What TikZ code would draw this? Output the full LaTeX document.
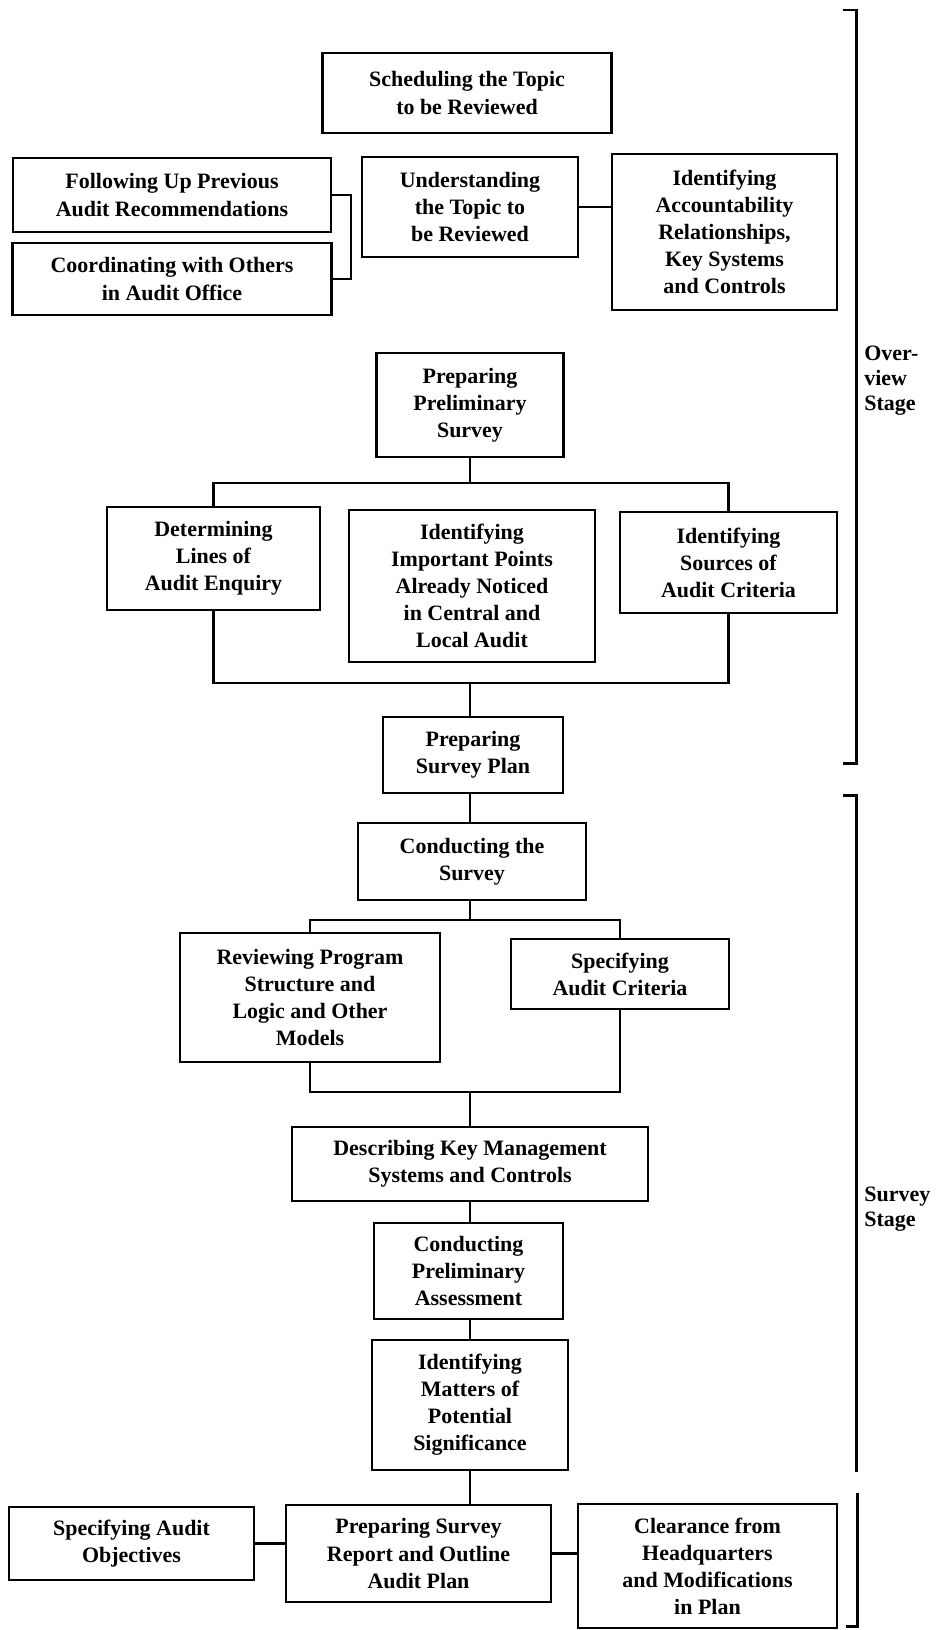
\documentclass[tikz,border=0pt]{standalone}
\usepackage{fontspec}
\setmainfont{Liberation Serif}
\usetikzlibrary{positioning, calc}

\tikzset{
  task/.style={draw, line width=1.3pt, align=center, inner sep=2pt,
    font=\fontsize{12.5}{15.4}\selectfont\bfseries},
  link/.style={line width=1.3pt},
  stagebar/.style={line width=1.7pt},
  stagelabel/.style={anchor=west, align=left, inner sep=0pt,
    font=\fontsize{12.5}{14.2}\selectfont\bfseries}
}

\begin{document}
\begin{tikzpicture}[x=0.02cm, y=-0.02cm]
  \useasboundingbox (0,0) rectangle (937,1630);

  % overview stage
  \node[task, minimum width=5.78cm, minimum height=1.60cm] (sched) at (467,93)
    {Scheduling the Topic\\to be Reviewed};
  \node[task, minimum width=6.36cm, minimum height=1.48cm] (follow) at (172,195)
    {Following Up Previous\\Audit Recommendations};
  \node[task, minimum width=6.38cm, minimum height=1.44cm] (coord) at (172,279)
    {Coordinating with Others\\in Audit Office};
  \node[task, minimum width=4.32cm, minimum height=2.00cm] (under) at (470,207)
    {Understanding\\the Topic to\\be Reviewed};
  \node[task, minimum width=4.50cm, minimum height=3.12cm] (account) at (724.5,232)
    {Identifying\\Accountability\\Relationships,\\Key Systems\\and Controls};
  \node[task, minimum width=3.74cm, minimum height=2.08cm] (prelim) at (470,405)
    {Preparing\\Preliminary\\Survey};
  \node[task, minimum width=4.26cm, minimum height=2.06cm] (determ) at (213.5,558.5)
    {Determining\\Lines of\\Audit Enquiry};
  \node[task, minimum width=4.92cm, minimum height=3.04cm] (points) at (472,586)
    {Identifying\\Important Points\\Already Noticed\\in Central and\\Local Audit};
  \node[task, minimum width=4.34cm, minimum height=2.02cm] (sources) at (728.5,562.5)
    {Identifying\\Sources of\\Audit Criteria};
  \node[task, minimum width=3.60cm, minimum height=1.52cm] (plan) at (473,755)
    {Preparing\\Survey Plan};

  % survey stage
  \node[task, minimum width=4.56cm, minimum height=1.54cm] (survey) at (472,861.5)
    {Conducting the\\Survey};
  \node[task, minimum width=5.20cm, minimum height=2.58cm] (review) at (310,997.5)
    {Reviewing Program\\Structure and\\Logic and Other\\Models};
  \node[task, minimum width=4.36cm, minimum height=1.40cm] (criteria) at (620,974)
    {Specifying\\Audit Criteria};
  \node[task, minimum width=7.12cm, minimum height=1.48cm] (describe) at (470,1164)
    {Describing Key Management\\Systems and Controls};
  \node[task, minimum width=3.78cm, minimum height=1.92cm] (assess) at (468.5,1271)
    {Conducting\\Preliminary\\Assessment};
  \node[task, minimum width=3.92cm, minimum height=2.60cm] (matters) at (470,1405)
    {Identifying\\Matters of\\Potential\\Significance};
  \node[task, minimum width=5.30cm, minimum height=1.94cm] (report) at (418.5,1553.5)
    {Preparing Survey\\Report and Outline\\Audit Plan};
  \node[task, minimum width=4.90cm, minimum height=1.46cm] (objectives) at (131.5,1543.5)
    {Specifying Audit\\Objectives};
  \node[task, minimum width=5.18cm, minimum height=2.48cm] (clearance) at (707.5,1566)
    {Clearance from\\Headquarters\\and Modifications\\in Plan};

  % bus points
  \coordinate (busA) at (470,483);
  \coordinate (busB) at (470,683);
  \coordinate (busC) at (470,920);
  \coordinate (busD) at (470,1092);

  % connectors
  \draw[link] (follow.east) -- ++(19,0) |- (coord.east);
  \draw[link] (under.east) -- (under.east -| account.west);
  \draw[link] (prelim.south) -- (busA);
  \draw[link] (determ.north) |- (busA) -| (sources.north);
  \draw[link] (determ.south) |- (busB) -| (sources.south);
  \draw[link] (busB) -- (busB |- plan.north);
  \draw[link] (plan.south -| busB) -- (busB |- survey.north);
  \draw[link] (survey.south -| busC) -- (busC);
  \draw[link] (review.north) |- (busC) -| (criteria.north);
  \draw[link] (review.south) |- (busD) -| (criteria.south);
  \draw[link] (busD) -- (busD |- describe.north);
  \draw[link] (describe.south) -- (describe.south |- assess.north);
  \draw[link] (assess.south -| describe.south) -- (describe.south |- matters.north);
  \draw[link] (matters.south) -- (matters.south |- report.north);
  \draw[link] (objectives.east) -- (objectives.east -| report.west);
  \draw[link] (report.east) -- (report.east -| clearance.west);

  % stage brackets
  \draw[stagebar] (843,10) -- (856,10) -- (856,763) -- (843,763);
  \draw[stagebar] (843,795) -- (856,795) -- (856,1472);
  \draw[stagebar] (857,1493) -- (857,1626) -- (846,1626);
  \node[stagelabel] (overlbl) at (864,381) {Over-\\view\\Stage};
  \node[stagelabel] (surveylbl) at (864,1209) {Survey\\Stage};
\end{tikzpicture}
\end{document}
